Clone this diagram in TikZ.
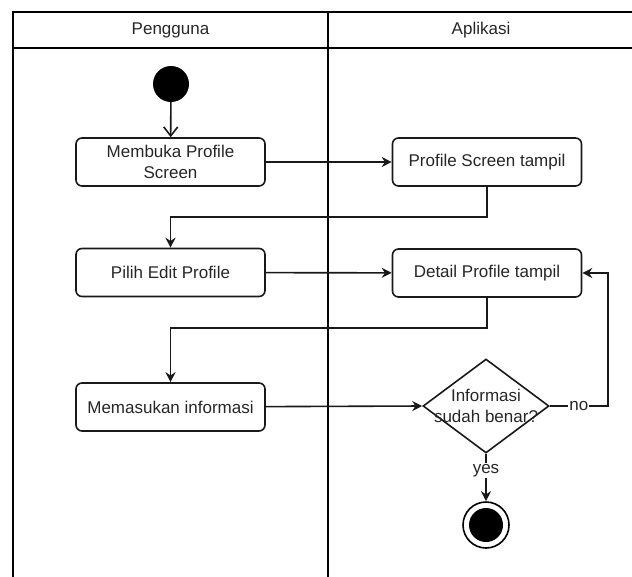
\documentclass[tikz,border=0pt]{standalone}
\usepackage{fontspec}
\setmainfont{Liberation Sans}
\usepackage{tikz}
\usetikzlibrary{arrows.meta,positioning,shapes.geometric}
\colorlet{ink}{black!90}

\begin{document}
\begin{tikzpicture}[x=1pt,y=-1pt,
  font=\fontsize{17}{21}\selectfont,
  action/.style={draw=ink,line width=1.6pt,rounded corners=6pt,minimum width=189pt,minimum height=48pt,inner sep=0pt,align=center,text=black!85},
  decision/.style={draw=ink,line width=1.6pt,diamond,minimum width=126pt,minimum height=94pt,inner sep=0pt},
  txt/.style={text=black!85,align=center,inner sep=1pt},
  flow/.style={draw=ink,line width=1.6pt,-{Stealth[length=10pt,width=10pt]}},
  plain/.style={draw=ink,line width=1.6pt}]
\useasboundingbox (0,0) rectangle (632,576);
% swimlanes
\draw[line width=2.2pt] (13,590) -- (13,12) -- (640,12);
\draw[line width=2.2pt] (13,48) -- (640,48);
\draw[line width=2.2pt] (328,12) -- (328,590);
\node[txt] (pengguna) at (170.5,30) {Pengguna};
\node[txt] (aplikasi) at (481,30) {Aplikasi};
% states
\node[circle,fill=black,minimum size=36pt,inner sep=0pt] (start) at (171,84) {};
\node[action] (buka) at (170.5,162) {Membuka Profile\\Screen};
\node[action] (screen) at (487,162) {Profile Screen tampil};
\node[action] (pilih) at (170.5,272.5) {Pilih Edit Profile};
\node[action] (detail) at (487,273) {Detail Profile tampil};
\node[action] (masuk) at (170.5,407) {Memasukan informasi};
\node[decision] (cek) at (486,406) {};
\node[txt] (cektxt) at (cek.center) {Informasi\\sudah benar?};
\node[circle,draw=black,line width=1.6pt,minimum size=46pt,inner sep=0pt] (stop) at (486,525) {};
\node[circle,fill=black,minimum size=34pt,inner sep=0pt] (stopdot) at (stop.center) {};
% bends
\coordinate (bend1) at (487,217);
\coordinate (bend2) at (487,328);
\coordinate (loop) at (608,406);
% transitions
\draw[plain,-{Straight Barb[length=9pt,width=14pt]}] (start) -- (buka);
\draw[flow] (buka) -- (screen);
\draw[flow] (screen.south) -- (bend1) -| (pilih.north);
\draw[flow] (pilih) -- (detail);
\draw[flow] (detail.south) -- (bend2) -| (masuk.north);
\draw[flow] (masuk) -- (cek.west);
\draw[flow] (cek.east) -- node[txt,fill=white,pos=0.5] (no) {no} (loop) |- (detail.east);
\draw[flow] (cek.south) -- node[txt,fill=white,pos=0.35] (yes) {yes} (stop.north);
\end{tikzpicture}
\end{document}
